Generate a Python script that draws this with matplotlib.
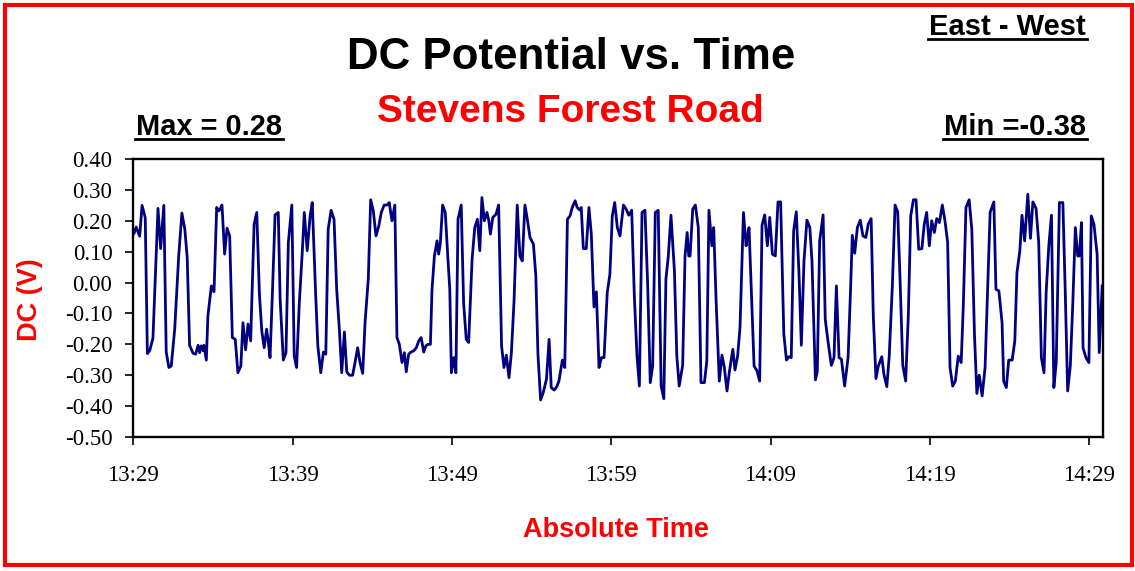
import matplotlib
matplotlib.use("Agg")
import matplotlib.pyplot as plt
from matplotlib.patches import Rectangle
from matplotlib.lines import Line2D

plt.rcParams['axes.unicode_minus'] = False

# Elapsed seconds after 13:29:00 of each visible vertex of the trace
time_s = [3, 11, 24, 33, 45, 53, 62, 74, 93, 103, 115, 124, 134, 143, 156, 171, 183, 194, 203, 212,
          225, 235, 244, 250, 256, 263, 266, 275, 281, 294, 304, 314, 322, 327, 334, 344, 353, 363, 373, 384,
          394, 405, 413, 423, 432, 442, 455, 465, 475, 484, 493, 502, 508, 515, 524, 534, 546, 553, 565, 575,
          584, 597, 606, 615, 625, 637, 644, 655, 666, 674, 687, 695, 706, 716, 725, 734, 745, 756, 766, 776,
          785, 795, 804, 814, 826, 835, 845, 854, 864, 873, 885, 894, 904, 914, 924, 934, 945, 956, 964, 974,
          985, 993, 1002, 1012, 1021, 1028, 1037, 1046, 1056, 1066, 1075, 1084, 1094, 1102, 1110, 1119, 1125, 1134, 1144, 1150,
          1156, 1165, 1175, 1185, 1192, 1198, 1207, 1215, 1223, 1235, 1244, 1254, 1263, 1276, 1286, 1296, 1305, 1313, 1322, 1332,
          1339, 1345, 1354, 1366, 1376, 1387, 1396, 1405, 1415, 1424, 1434, 1446, 1456, 1465, 1475, 1484, 1494, 1507, 1516, 1524,
          1534, 1544, 1556, 1566, 1574, 1585, 1595, 1603, 1616, 1625, 1635, 1645, 1653, 1664, 1672, 1681, 1687, 1695, 1706, 1716,
          1725, 1735, 1744, 1754, 1763, 1773, 1785, 1795, 1804, 1813, 1823, 1833, 1846, 1856, 1866, 1877, 1887, 1897, 1906, 1916,
          1927, 1937, 1947, 1956, 1966, 1977, 1988, 1998, 2006, 2015, 2025, 2038, 2047, 2056, 2069, 2078, 2086, 2092, 2097, 2107,
          2117, 2128, 2138, 2151, 2160, 2168, 2179, 2186, 2195, 2207, 2217, 2226, 2236, 2245, 2258, 2266, 2276, 2285, 2298, 2308,
          2313, 2319, 2328, 2338, 2349, 2359, 2368, 2378, 2388, 2397, 2407, 2418, 2428, 2438, 2450, 2460, 2469, 2478, 2487, 2497,
          2507, 2516, 2526, 2537, 2548, 2556, 2569, 2576, 2585, 2598, 2606, 2617, 2629, 2639, 2648, 2658, 2667, 2679, 2692, 2701,
          2708, 2717, 2727, 2738, 2748, 2759, 2768, 2779, 2787, 2797, 2806, 2819, 2827, 2838, 2847, 2859, 2869, 2879, 2888, 2898,
          2909, 2919, 2928, 2938, 2948, 2958, 2970, 2979, 2988, 2998, 3007, 3017, 3026, 3036, 3047, 3057, 3067, 3076, 3086, 3096,
          3107, 3118, 3126, 3136, 3148, 3158, 3168, 3177, 3186, 3197, 3208, 3217, 3227, 3241, 3249, 3260, 3272, 3278, 3288, 3297,
          3310, 3320, 3328, 3339, 3347, 3357, 3369, 3379, 3388, 3400, 3410, 3420, 3430, 3438, 3448, 3458, 3467, 3476, 3488, 3501,
          3510, 3519, 3529, 3538, 3548, 3557, 3563, 3571, 3577, 3588, 3599, 3608, 3618, 3630, 3638, 3649]

dc_volts = [0.16, 0.18, 0.15, 0.25, 0.21, -0.23, -0.22, -0.18, 0.24, 0.11, 0.25, -0.225, -0.275, -0.27, -0.15, 0.086, 0.225, 0.173, 0.081, -0.203,
            -0.229, -0.232, -0.203, -0.227, -0.205, -0.221, -0.203, -0.251, -0.108, -0.011, -0.030, 0.243, 0.232, 0.238, 0.251, 0.092, 0.176, 0.151, -0.178, -0.184,
            -0.292, -0.270, -0.130, -0.218, -0.134, -0.189, 0.189, 0.227, -0.038, -0.157, -0.211, -0.151, -0.189, -0.243, -0.032, 0.219, 0.227, -0.054, -0.251, -0.227,
            0.130, 0.251, -0.238, -0.275, -0.070, 0.108, 0.227, 0.103, 0.216, 0.259, -0.043, -0.205, -0.292, -0.225, -0.232, 0.173, 0.234, 0.205, -0.022, -0.151,
            -0.292, -0.160, -0.289, -0.300, -0.300, -0.259, -0.211, -0.259, -0.294, -0.127, 0.011, 0.268, 0.232, 0.151, 0.181, 0.227, 0.251, 0.251, 0.259, 0.200,
            0.251, -0.178, -0.200, -0.259, -0.227, -0.289, -0.232, -0.225, -0.221, -0.211, -0.189, -0.178, -0.225, -0.205, -0.200, -0.200, -0.022, 0.086, 0.135, 0.092,
            0.124, 0.251, 0.227, 0.076, -0.022, -0.292, -0.243, -0.292, 0.205, 0.251, -0.065, -0.184, -0.194, 0.076, 0.178, 0.205, 0.103, 0.275, 0.200, 0.227,
            0.200, 0.157, 0.211, 0.221, 0.251, -0.205, -0.275, -0.235, -0.308, -0.227, -0.059, 0.251, 0.086, 0.070, 0.251, 0.205, 0.146, 0.124, 0.022, -0.232,
            -0.380, -0.356, -0.313, -0.184, -0.340, -0.348, -0.337, -0.319, -0.251, -0.275, 0.205, 0.216, 0.243, 0.265, 0.243, 0.235, 0.243, 0.110, 0.110, 0.243,
            0.157, -0.079, -0.030, -0.275, -0.243, -0.243, -0.032, 0.027, 0.216, 0.259, 0.178, 0.151, 0.251, 0.238, 0.218, 0.234, -0.043, -0.238, -0.335, 0.227,
            0.234, 0.000, -0.324, -0.270, 0.227, 0.234, -0.335, -0.376, 0.011, 0.086, 0.218, 0.038, -0.238, -0.335, -0.268, 0.086, 0.162, 0.086, 0.086, 0.238,
            0.251, 0.178, -0.324, -0.324, -0.254, 0.234, 0.119, 0.178, -0.059, -0.319, -0.235, -0.275, -0.351, -0.289, -0.216, -0.283, -0.238, -0.146, 0.227, 0.119,
            0.149, 0.178, -0.038, -0.270, -0.286, -0.319, 0.186, 0.219, 0.119, 0.211, 0.092, 0.086, 0.261, 0.261, -0.167, -0.251, -0.240, -0.243, 0.167, 0.229,
            0.032, -0.203, 0.070, 0.202, 0.178, 0.070, -0.315, -0.289, 0.135, 0.219, -0.119, -0.194, -0.268, -0.243, -0.011, -0.243, -0.248, -0.335, -0.243, -0.032,
            0.153, 0.095, 0.178, 0.202, 0.151, 0.146, 0.189, 0.207, -0.108, -0.311, -0.270, -0.240, -0.297, -0.337, -0.238, -0.005, 0.251, 0.229, 0.005, -0.268,
            -0.319, -0.103, 0.216, 0.268, 0.268, 0.108, 0.110, 0.189, 0.227, 0.119, 0.200, 0.162, 0.207, 0.194, 0.251, 0.200, 0.130, -0.275, -0.335, -0.319,
            -0.238, -0.259, -0.076, 0.243, 0.268, 0.173, -0.167, -0.359, -0.300, -0.367, -0.275, -0.032, 0.227, 0.261, -0.022, -0.027, -0.130, -0.319, -0.340, -0.251,
            -0.251, -0.189, 0.032, 0.103, 0.218, 0.135, 0.286, 0.143, 0.261, 0.240, 0.130, -0.243, -0.292, -0.032, 0.119, 0.218, -0.340, -0.259, 0.259, 0.259,
            -0.032, -0.351, -0.270, -0.076, 0.178, 0.086, 0.086, 0.194, -0.211, -0.243, -0.259, 0.216, 0.189, 0.092, -0.227, -0.011]

tick_seconds = [0, 600, 1200, 1800, 2400, 3000, 3600]
tick_labels = ["13:29", "13:39", "13:49", "13:59", "14:09", "14:19", "14:29"]
y_ticks = [0.40, 0.30, 0.20, 0.10, 0.00, -0.10, -0.20, -0.30, -0.40, -0.50]

title = "DC Potential vs. Time"
subtitle = "Stevens Forest Road"
max_text = "Max = 0.28"
min_text = "Min =-0.38"
dir_text = "East - West"

SANS = ['Liberation Sans', 'DejaVu Sans']
SERIF = ['Liberation Serif', 'DejaVu Serif']

W, H = 1135, 571
fig = plt.figure(figsize=(W / 100, H / 100), dpi=100)
fig.patch.set_facecolor('white')

ax = fig.add_axes([133.3 / W, 1 - 437 / H, (1102.7 - 133.3) / W, (437 - 159) / H])
ax.plot(time_s, dc_volts, color='#000080', lw=2.0, solid_joinstyle='round')
ax.set_xlim(0, 3651)
ax.set_ylim(-0.50, 0.40)
ax.set_yticks(y_ticks)
ax.set_yticklabels([f"{v:.2f}" for v in y_ticks], fontfamily=SERIF, fontsize=16.5)
ax.set_xticks(tick_seconds)
ax.set_xticklabels(tick_labels, fontfamily=SERIF, fontsize=16.5)
ax.tick_params(axis='y', direction='out', length=6, width=1.2, pad=9)
ax.tick_params(axis='x', direction='out', length=6, width=1.2, pad=14)
for sp in ax.spines.values():
    sp.set_linewidth(1.7)
    sp.set_color('black')

def fx(px):
    return px / W

def fy(py):
    return 1 - py / H

t_title = fig.text(fx(571), fy(69.3), title, ha='center', va='baseline',
                   fontfamily=SANS, fontweight='bold', fontsize=31.6, color='black')
t_sub = fig.text(fx(570), fy(121.7), subtitle, ha='center', va='baseline',
                 fontfamily=SANS, fontweight='bold', fontsize=28, color='#FF0000')
t_max = fig.text(fx(136), fy(135), max_text, ha='left', va='baseline',
                 fontfamily=SANS, fontweight='bold', fontsize=20.9, color='black')
t_min = fig.text(fx(1086), fy(135), min_text, ha='right', va='baseline',
                 fontfamily=SANS, fontweight='bold', fontsize=21, color='black')
t_dir = fig.text(fx(1086), fy(35), dir_text, ha='right', va='baseline',
                 fontfamily=SANS, fontweight='bold', fontsize=21, color='black')

fig.text(fx(30), fy(300), "DC (V)", ha='center', va='center', rotation=90,
         fontfamily=SANS, fontweight='bold', fontsize=19.5, color='#FF0000')
fig.text(fx(616), fy(530), "Absolute Time", ha='center', va='center',
         fontfamily=SANS, fontweight='bold', fontsize=19.5, color='#FF0000')

# underline the annotation texts
fig.canvas.draw()
renderer = fig.canvas.get_renderer()
for t, base in ((t_max, 135), (t_min, 135), (t_dir, 35)):
    bb = t.get_window_extent(renderer)
    yline = fy(base + 4)
    fig.add_artist(Line2D([bb.x0 / W - 0.001, bb.x1 / W + 0.001], [yline, yline],
                          transform=fig.transFigure, color='black', lw=2.0))

# red frame around the figure
fig.add_artist(Rectangle((fx(5.3), fy(565)), fx(1131.5 - 5.3), (565 - 4.7) / H,
                         transform=fig.transFigure, fill=False, edgecolor='#FF0000', lw=3.0))

fig.savefig('out.png', dpi=100)
